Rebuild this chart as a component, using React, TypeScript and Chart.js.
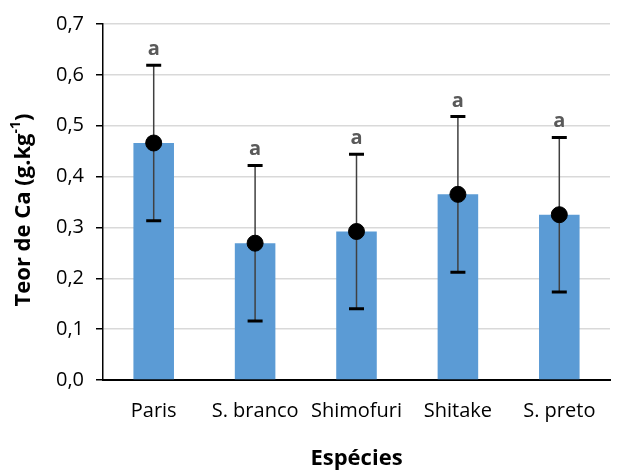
import React, { useEffect, useRef } from "react";
import { Chart, registerables } from "chart.js";

Chart.register(...registerables);

const categories = ["Paris", "S. branco", "Shimofuri", "Shitake", "S. preto"];
const means = [0.466, 0.269, 0.292, 0.365, 0.325];
const errors = [0.153, 0.153, 0.152, 0.153, 0.152];
const letters = ["a", "a", "a", "a", "a"];
const yTicks = [0, 0.1, 0.2, 0.3, 0.4, 0.5, 0.6, 0.7];

const FONT = "'Open Sans'";

const errorPlugin = {
  id: "errorBarsAndTitles",
  beforeDatasetDraw(chart: any, args: any) {
    if (args.index !== 0) return;
    const ctx = chart.ctx;
    const x = chart.scales.x;
    const y = chart.scales.y;
    ctx.save();
    means.forEach((m, i) => {
      const px = x.getPixelForValue(i);
      const top = y.getPixelForValue(m + errors[i]);
      const bot = y.getPixelForValue(m - errors[i]);
      ctx.strokeStyle = "#404040";
      ctx.lineWidth = 1.5;
      ctx.beginPath();
      ctx.moveTo(px, top);
      ctx.lineTo(px, bot);
      ctx.stroke();
      ctx.strokeStyle = "#000";
      ctx.lineWidth = 3;
      ctx.beginPath();
      ctx.moveTo(px - 7.5, top);
      ctx.lineTo(px + 7.5, top);
      ctx.moveTo(px - 7.5, bot);
      ctx.lineTo(px + 7.5, bot);
      ctx.stroke();
      ctx.fillStyle = "#595959";
      ctx.font = `bold 20px ${FONT}`;
      ctx.textAlign = "center";
      ctx.textBaseline = "alphabetic";
      ctx.fillText(letters[i], px, top - 10);
    });
    ctx.restore();
  },
  afterDraw(chart: any) {
    const ctx = chart.ctx;
    const area = chart.chartArea;
    ctx.save();
    ctx.fillStyle = "#000";
    // x title
    ctx.font = `bold 22px ${FONT}`;
    ctx.textAlign = "center";
    ctx.textBaseline = "middle";
    ctx.fillText("Espécies", (area.left + area.right) / 2, 459);
    // y title with superscript
    ctx.translate(24, 210);
    ctx.rotate(-Math.PI / 2);
    const main = "Teor de Ca (g.kg";
    const sup = "-1";
    const close = ")";
    ctx.font = `bold 22px ${FONT}`;
    const w1 = ctx.measureText(main).width;
    const w3 = ctx.measureText(close).width;
    ctx.font = `bold 14px ${FONT}`;
    const w2 = ctx.measureText(sup).width;
    const total = w1 + w2 + w3;
    let cx = -total / 2;
    ctx.textAlign = "left";
    ctx.font = `bold 22px ${FONT}`;
    ctx.fillText(main, cx, 0);
    cx += w1;
    ctx.font = `bold 14px ${FONT}`;
    ctx.fillText(sup, cx, -8);
    cx += w2;
    ctx.font = `bold 22px ${FONT}`;
    ctx.fillText(close, cx, 0);
    ctx.restore();
  },
};

export default function App() {
  const ref = useRef<HTMLCanvasElement>(null);
  useEffect(() => {
    document.body.style.margin = "0";
    const chart = new Chart(ref.current!, {
      type: "bar",
      data: {
        labels: categories,
        datasets: [
          {
            type: "line",
            label: "Média",
            data: means,
            showLine: false,
            pointRadius: 8,
            pointBackgroundColor: "#000",
            pointBorderColor: "#000",
            order: 1,
          } as any,
          {
            type: "bar",
            label: "Teor",
            data: means,
            backgroundColor: "#5B9BD5",
            barPercentage: 0.4,
            categoryPercentage: 1,
            order: 2,
          },
        ],
      },
      options: {
        animation: false,
        responsive: false,
        layout: { padding: { top: 22, right: 1, left: 0, bottom: 0 } },
        plugins: {
          legend: { display: false },
          tooltip: { enabled: false },
        },
        scales: {
          x: {
            grid: { display: false },
            border: { color: "#000", width: 2 },
            ticks: {
              color: "#000",
              font: { family: FONT, size: 20 },
              padding: 11,
              maxRotation: 0,
              autoSkip: false,
            },
            afterFit: (s: any) => {
              s.height = 90;
            },
          },
          y: {
            min: 0,
            max: 0.7,
            afterBuildTicks: (s: any) => {
              s.ticks = yTicks.map((v) => ({ value: v }));
            },
            grid: {
              color: "#d9d9d9",
              lineWidth: 1.5,
              tickColor: "#000",
              tickLength: 7,
            },
            border: { color: "#000", width: 1.5 },
            ticks: {
              color: "#000",
              font: { family: FONT, size: 20 },
              padding: 12,
              callback: (v: any) => Number(v).toFixed(1).replace(".", ","),
            },
            afterFit: (s: any) => {
              s.width = 103;
            },
          },
        },
      },
      plugins: [errorPlugin],
    });
    return () => chart.destroy();
  }, []);
  return (
    <div style={{ width: 619, height: 470 }}>
      <canvas ref={ref} width={619} height={470} />
    </div>
  );
}
